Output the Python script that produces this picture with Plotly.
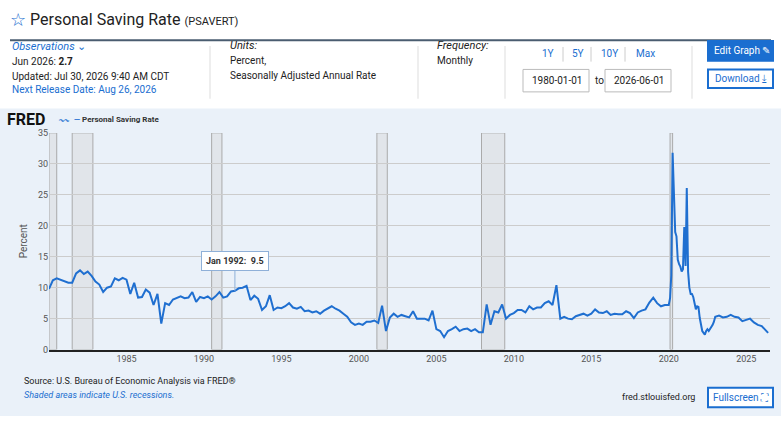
import plotly.graph_objects as go

# quarterly readings (approx.) 1980-2019
years_q = list(range(1980, 2020))
vals_q = [
    [9.8, 11.2, 11.5, 11.3], [11.0, 10.8, 10.8, 12.3], [12.8, 12.2, 12.6, 11.9],
    [11.0, 10.5, 9.3, 10.0], [10.2, 11.5, 11.2, 11.6], [11.3, 9.0, 10.8, 8.4],
    [8.5, 9.7, 9.2, 7.2], [9.0, 4.2, 7.5, 7.2], [8.1, 8.3, 8.6, 8.3],
    [8.4, 9.3, 7.7, 8.5], [8.3, 8.6, 8.1, 8.6], [9.3, 8.4, 8.6, 9.4],
    [9.5, 9.9, 10.0, 10.3], [8.0, 8.7, 8.2, 6.4], [7.0, 8.8, 6.4, 6.8],
    [6.7, 7.0, 7.5, 6.8], [6.6, 6.9, 6.2, 6.3], [6.0, 6.2, 5.8, 6.3],
    [6.6, 7.0, 6.6, 6.3], [5.8, 5.3, 4.4, 4.0], [4.2, 4.0, 4.5, 4.5],
    [4.7, 4.3, 7.1, 3.0], [5.2, 5.8, 5.3, 5.6], [5.4, 5.2, 6.2, 5.0],
    [5.0, 5.0, 4.7, 6.3], [3.3, 3.0, 2.0, 3.0], [3.3, 3.7, 3.0, 3.3],
    [3.4, 3.0, 3.3, 2.8], [2.8, 7.3, 4.0, 6.2], [6.0, 7.3, 5.0, 5.6],
    [5.9, 6.4, 6.4, 6.0], [7.0, 6.5, 6.8, 6.8], [7.5, 7.8, 7.2, 10.4],
    [5.0, 5.3, 5.0, 4.9], [5.4, 5.6, 5.8, 5.5], [5.8, 6.5, 6.0, 5.9],
    [6.2, 5.6, 5.8, 5.7], [5.7, 6.2, 5.9, 5.1], [6.0, 6.3, 6.5, 7.6],
    [8.4, 7.5, 7.0, 7.2],
]
# monthly readings 2020-2022
vals_2020 = [7.2, 8.3, 12.0, 31.8, 24.2, 19.0, 18.3, 14.5, 13.8, 13.4, 12.6, 13.0]
vals_2021 = [19.8, 13.5, 26.1, 12.6, 10.0, 9.0, 9.0, 8.5, 7.5, 6.5, 7.0, 6.9]
vals_2022 = [5.1, 4.0, 3.0, 2.7, 2.4, 3.0, 3.3, 3.0, 3.3, 3.6, 4.0, 4.5]
# quarterly 2023-2026
vals_late = {2023: [5.3, 5.5, 5.2, 5.3], 2024: [5.6, 5.3, 5.2, 4.6],
             2025: [4.8, 5.0, 4.4, 4.0], 2026: [3.8, 2.7]}

recessions = [("1980-01-01", "1980-07-01"), ("1981-07-01", "1982-11-01"),
              ("1990-07-01", "1991-03-01"), ("2001-03-01", "2001-11-01"),
              ("2007-12-01", "2009-06-01"), ("2020-02-01", "2020-04-01")]

dates, vals = [], []
for y, q in zip(years_q, vals_q):
    for i, v in enumerate(q):
        dates.append(f"{y}-{1 + 3*i:02d}-01"); vals.append(v)
for y, arr in [(2020, vals_2020), (2021, vals_2021), (2022, vals_2022)]:
    for i, v in enumerate(arr):
        dates.append(f"{y}-{i+1:02d}-01"); vals.append(v)
for y, arr in vals_late.items():
    for i, v in enumerate(arr):
        m = 6 if (y == 2026 and i == 1) else 1 + 3*i
        dates.append(f"{y}-{m:02d}-01"); vals.append(v)

W, H = 781, 421
def px(x): return x / W
def py(y): return 1 - y / H

fig = go.Figure()
fig.add_trace(go.Scatter(x=dates, y=vals, mode="lines",
                         line=dict(color="#1f6fd0", width=2), hoverinfo="skip"))

shapes = []
# page background panels
shapes.append(dict(type="rect", xref="paper", yref="paper", x0=0, x1=1, y0=0, y1=py(106),
                   fillcolor="#eaf1f9", line_width=0, layer="below"))
shapes.append(dict(type="line", xref="paper", yref="paper", x0=px(10), x1=px(771), y0=py(36), y1=py(36),
                   line=dict(color="#4a5d70", width=2)))
for sx in [210, 418, 505, 692]:
    shapes.append(dict(type="line", xref="paper", yref="paper", x0=px(sx), x1=px(sx),
                       y0=py(42), y1=py(96), line=dict(color="#dddddd", width=1)))
for sx in [563, 591, 625]:
    shapes.append(dict(type="line", xref="paper", yref="paper", x0=px(sx), x1=px(sx),
                       y0=py(43), y1=py(58), line=dict(color="#cccccc", width=1)))
# date boxes
for x0, x1 in [(523, 589), (605, 671)]:
    shapes.append(dict(type="rect", xref="paper", yref="paper", x0=px(x0), x1=px(x1),
                       y0=py(89), y1=py(66), line=dict(color="#bbbbbb", width=1)))
shapes.append(dict(type="rect", xref="paper", yref="paper", x0=px(708), x1=px(773),
                   y0=py(57), y1=py(37), fillcolor="#1a6ed0", line=dict(color="#1a6ed0")))
shapes.append(dict(type="rect", xref="paper", yref="paper", x0=px(708), x1=px(773),
                   y0=py(85), y1=py(66), fillcolor="white", line=dict(color="#1a6ed0")))
shapes.append(dict(type="rect", xref="paper", yref="paper", x0=px(708), x1=px(773),
                   y0=py(412), y1=py(392), fillcolor="white", line=dict(color="#1a6ed0")))
# recessions
for a, b in recessions:
    shapes.append(dict(type="rect", xref="x", yref="y", x0=a, x1=b, y0=0, y1=35,
                       fillcolor="#e1e5ea", line=dict(color="#aaaaaa", width=1), layer="below"))

anns = [
    dict(x=px(8), y=py(15), text="☆", font=dict(size=18, color="#1a6ed0")),
    dict(x=px(28), y=py(15), text="Personal Saving Rate <span style='font-size:11px'>(PSAVERT)</span>",
         font=dict(size=16, color="#222")),
    dict(x=px(10), y=py(43), text="<i>Observations</i> ⌄", font=dict(size=11, color="#1a6ed0")),
    dict(x=px(10), y=py(58), text="Jun 2026: <b>2.7</b>", font=dict(size=10, color="#222")),
    dict(x=px(10), y=py(73), text="Updated: Jul 30, 2026 9:40 AM CDT", font=dict(size=10, color="#222")),
    dict(x=px(10), y=py(87), text="Next Release Date: Aug 26, 2026", font=dict(size=10, color="#1a6ed0")),
    dict(x=px(228), y=py(41), text="<i>Units:</i>", font=dict(size=11, color="#222")),
    dict(x=px(228), y=py(57), text="Percent,", font=dict(size=10, color="#222")),
    dict(x=px(228), y=py(72), text="Seasonally Adjusted Annual Rate", font=dict(size=10, color="#222")),
    dict(x=px(435), y=py(41), text="<i>Frequency:</i>", font=dict(size=11, color="#222")),
    dict(x=px(435), y=py(57), text="Monthly", font=dict(size=10, color="#222")),
    dict(x=px(540), y=py(50), text="1Y", font=dict(size=10, color="#1a6ed0")),
    dict(x=px(570), y=py(50), text="5Y", font=dict(size=10, color="#1a6ed0")),
    dict(x=px(599), y=py(50), text="10Y", font=dict(size=10, color="#1a6ed0")),
    dict(x=px(634), y=py(50), text="Max", font=dict(size=10, color="#1a6ed0")),
    dict(x=px(530), y=py(77), text="1980-01-01", font=dict(size=10, color="#222")),
    dict(x=px(593), y=py(77), text="to", font=dict(size=10, color="#222")),
    dict(x=px(612), y=py(77), text="2026-06-01", font=dict(size=10, color="#222")),
    dict(x=px(712), y=py(47), text="Edit Graph ✎", font=dict(size=10, color="white")),
    dict(x=px(713), y=py(75), text="Download ⤓", font=dict(size=10, color="#1a6ed0")),
    dict(x=px(5), y=py(117), text="<b>FRED</b>", font=dict(size=16, color="#111")),
    dict(x=px(56), y=py(117), text="〰", font=dict(size=10, color="#4a8ad8")),
    dict(x=px(72), y=py(117), text="<span style='color:#1f6fd0'><b>—</b></span> <b>Personal Saving Rate</b>",
         font=dict(size=8, color="#333")),
    dict(x=px(22), y=py(385), text="Source: U.S. Bureau of Economic Analysis via FRED®",
         font=dict(size=9, color="#222")),
    dict(x=px(22), y=py(399), text="<i>Shaded areas indicate U.S. recessions.</i>",
         font=dict(size=9, color="#1a6ed0")),
    dict(x=px(620), y=py(402), text="fred.stlouisfed.org", font=dict(size=9, color="#222")),
    dict(x=px(711), y=py(402), text="Fullscreen ⛶", font=dict(size=10, color="#1a6ed0")),
]
for a in anns:
    a.update(xref="paper", yref="paper", xanchor="left", yanchor="middle", showarrow=False)
anns.append(dict(x="1992-01-01", y=9.5, xref="x", yref="y", text="<b>Jan 1992:  9.5</b>",
                 showarrow=True, ax=0, ay=-30, arrowwidth=1, arrowhead=0, arrowcolor="#8fb0d8",
                 bgcolor="white", bordercolor="#8fb0d8", borderpad=4,
                 font=dict(size=9, color="#333")))

fig.update_layout(
    width=W, height=H, margin=dict(l=0, r=0, t=0, b=0),
    paper_bgcolor="white", plot_bgcolor="white", showlegend=False,
    font=dict(family="Roboto, Arial", color="#333"),
    shapes=shapes, annotations=anns,
    xaxis=dict(domain=[px(49), px(770)], range=["1980-01-01", "2026-07-15"], type="date",
               tickvals=[f"{y}-01-01" for y in range(1985, 2030, 5)],
               ticktext=[str(y) for y in range(1985, 2030, 5)],
               showgrid=False, showline=True, linecolor="#222", linewidth=2,
               tickfont=dict(size=9, color="#555"), ticks=""),
    yaxis=dict(domain=[py(353), py(131)], range=[0, 35], dtick=5,
               gridcolor="#cccccc", zeroline=False,
               tickfont=dict(size=9, color="#555"),
               title=dict(text="Percent", font=dict(size=10, color="#555"), standoff=8)),
)
fig.write_html("out.html", config={"displayModeBar": False},
               post_script="document.body.style.margin='0';document.body.style.overflow='hidden';")
